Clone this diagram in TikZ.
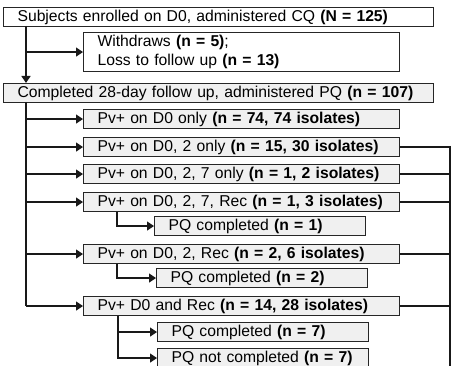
\documentclass[tikz,border=0pt]{standalone}
\usepackage{fontspec}
\setmainfont{Liberation Sans}
\usetikzlibrary{arrows.meta}
\begin{document}
\begin{tikzpicture}[x=1pt,y=-1pt,
  box/.style={draw=black!85, line width=1.1pt, fill=black!6, anchor=north west,
    minimum height=19pt, inner xsep=14pt, inner ysep=0pt, align=left,
    font=\fontsize{15.7}{19.5}\selectfont},
  wbox/.style={box, fill=white},
  wide/.style={text width=402pt},
  mid/.style={text width=288pt},
  small/.style={text width=183pt},
  con/.style={line width=1.4pt, draw=black!90},
  arr/.style={con, -{Triangle[length=7pt,width=9pt]}}]
\useasboundingbox (0,0) rectangle (451,366);
\node[wbox,wide] (b1) at (3,7) {Subjects enrolled on D0, administered CQ \textbf{(N = 125)}};
\node[wbox,mid,minimum height=39pt] (wd) at (83,32) {Withdraws \textbf{(n = 5)};\\Loss to follow up \textbf{(n = 13)}};
\node[box,wide] (done) at (3,83) {Completed 28-day follow up, administered PQ \textbf{(n = 107)}};
\node[box,mid] (r1) at (83,109) {Pv+ on D0 only \textbf{(n = 74, 74 isolates)}};
\node[box,mid] (r2) at (83,137) {Pv+ on D0, 2 only \textbf{(n = 15, 30 isolates)}};
\node[box,mid] (r3) at (83,164) {Pv+ on D0, 2, 7 only \textbf{(n = 1, 2 isolates)}};
\node[box,mid] (r4) at (83,192) {Pv+ on D0, 2, 7, Rec \textbf{(n = 1, 3 isolates)}};
\node[box,small] (p1) at (154,216) {PQ completed \textbf{(n = 1)}};
\node[box,mid] (r5) at (83,244) {Pv+ on D0, 2, Rec \textbf{(n = 2, 6 isolates)}};
\node[box,small] (p2) at (156,268) {PQ completed \textbf{(n = 2)}};
\node[box,mid] (r6) at (83,296) {Pv+ D0 and Rec \textbf{(n = 14, 28 isolates)}};
\node[box,small] (p3) at (157,322) {PQ completed \textbf{(n = 7)}};
\node[box,small] (p4) at (157,348) {PQ not completed \textbf{(n = 7)}};
% trunk 1
\coordinate (t0) at (26,26);
\draw[arr] (t0) -- (t0 |- done.north);
\draw[arr] (t0 |- wd.west) -- (wd.west);
% trunk 2
\coordinate (t1) at (26,102);
\draw[con] (t1) -- (t1 |- r6.west);
\foreach \n in {r1,r2,r3,r4,r5,r6}
  \draw[arr] (t1 |- \n.west) -- (\n.west);
% sub branches
\draw[arr] ([xshift=34pt]r4.south west) |- (p1.west);
\draw[arr] ([xshift=34pt]r5.south west) |- (p2.west);
\draw[arr] ([xshift=35pt]r6.south west) |- (p3.west);
\draw[arr] ([xshift=35pt]r6.south west) |- (p4.west);
% right bracket
\coordinate (rt) at (450,146);
\coordinate (rbot) at (450,370);
\draw[con] (rt) -- (rbot);
\foreach \n in {r2,r3,r4,r5,r6}
  \draw[con] (\n.east) -- (\n.east -| rt);
\end{tikzpicture}
\end{document}
